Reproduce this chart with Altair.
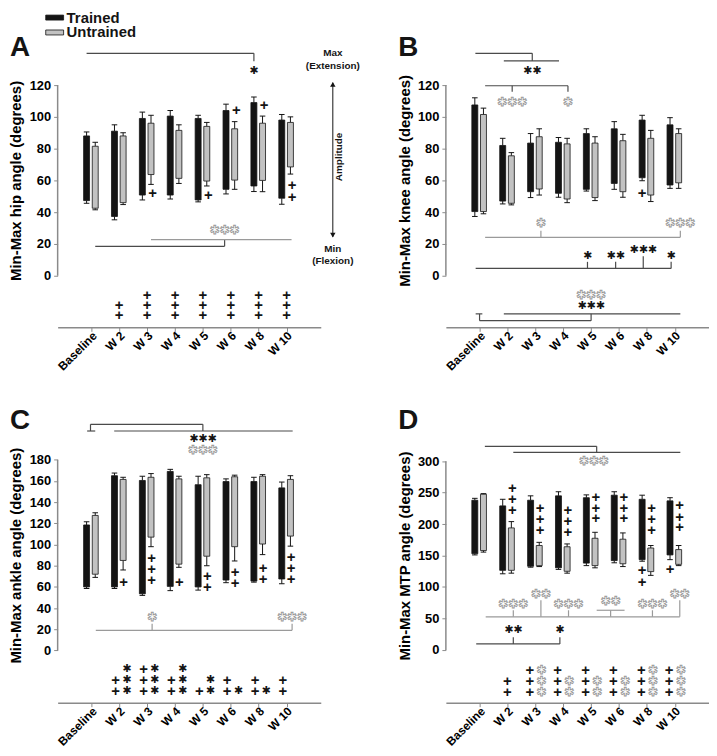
import altair as alt
import pandas as pd

cats = ["Baseline", "W 2", "W 3", "W 4", "W 5", "W 6", "W 8", "W 10"]
groups = ["Trained", "Untrained"]

# ---------------- A: hip ----------------
hip_tr_max = [88, 91, 99, 100.5, 99, 104, 109, 98]
hip_tr_up = [90.5, 95, 103, 104, 101, 108, 112.5, 101.5]
hip_tr_min = [47.3, 37.3, 50.8, 50.8, 47.7, 54.4, 56.5, 48.8]
hip_tr_dn = [45.6, 35.2, 47.7, 48.3, 46.5, 51.5, 53, 45]
hip_un_max = [81.5, 88, 96, 91.5, 94, 92.5, 96, 96.5]
hip_un_up = [84, 90, 101, 95, 96.5, 97, 100.5, 100]
hip_un_min = [42.5, 46, 63.7, 61.3, 59.6, 60.2, 60, 68.5]
hip_un_dn = [41.5, 44.8, 57.5, 58.1, 56.5, 54.4, 52.9, 64]
hip_plus_counts = [0, 2, 3, 3, 3, 3, 3, 3]

# ---------------- B: knee ----------------
knee_tr_max = [107.5, 82, 83.5, 84, 89.5, 92.5, 98, 95]
knee_tr_up = [112, 86.5, 89.5, 87, 92.5, 97, 101, 99.5]
knee_tr_min = [40.4, 47, 52.9, 51.9, 54.4, 58.1, 61.7, 57.1]
knee_tr_dn = [37.3, 45.2, 49.2, 49.4, 53.3, 54.4, 59.8, 55]
knee_un_max = [101.5, 75.5, 87.5, 83, 83.5, 85, 86.5, 89.5]
knee_un_up = [105.5, 77.5, 92.5, 86.5, 87.5, 89, 91.5, 92.5]
knee_un_min = [40.4, 45.6, 54.6, 48.3, 49.2, 52.9, 50.8, 58.5]
knee_un_dn = [39, 44.6, 50.8, 46, 47.3, 49.4, 46.7, 55]

# ---------------- C: ankle ----------------
ankle_tr_max = [118.5, 165, 160.5, 169, 156.5, 159.5, 159.5, 153.5]
ankle_tr_up = [121.5, 167.5, 164.5, 171, 164.5, 162, 163.5, 159]
ankle_tr_min = [60, 60, 53.5, 60.5, 60, 66.5, 65.5, 67.5]
ankle_tr_dn = [58.5, 58.5, 52, 56.5, 57, 64, 64.5, 63]
ankle_un_max = [127.5, 161.5, 163.5, 162, 163, 164, 164.5, 161.5]
ankle_un_up = [130, 163.5, 167, 164.5, 166, 165.5, 166, 165]
ankle_un_min = [72, 85, 107, 81.5, 89, 98, 100.5, 108]
ankle_un_dn = [69, 76, 98, 78.5, 80, 84.5, 90.5, 98.5]
ankle_plus_counts = [0, 2, 3, 2, 1, 2, 2, 2]
ankle_star_counts = [0, 3, 3, 3, 2, 1, 1, 0]

# ---------------- D: MTP ----------------
mtp_tr_max = [238, 229, 238, 245, 242, 246, 239.5, 237]
mtp_tr_up = [241, 239.5, 245, 251.5, 246.5, 251.5, 246, 242]
mtp_tr_min = [153, 126.5, 133, 130.5, 138, 142, 143.5, 151]
mtp_tr_dn = [151, 121, 131.5, 128, 134, 138.5, 141, 143.5]
mtp_un_max = [247.5, 194, 166, 164, 177.5, 176, 162, 159.5]
mtp_un_up = [248.5, 204, 171, 168.5, 187, 186, 166, 166]
mtp_un_min = [158, 126.5, 134, 125, 134, 137, 124.5, 136]
mtp_un_dn = [155.5, 122, 132.5, 122, 130.5, 132.5, 118.5, 134]
mtp_plus_counts = [0, 2, 3, 3, 3, 3, 3, 3]
mtp_star_counts = [0, 0, 3, 2, 2, 2, 3, 3]

# ---------------- styles ----------------
FONT = "Liberation Sans"
SYM = "DejaVu Sans"
STAR = "\u2731"
BLACK = "#141414"
GRAY_FILL = "#c2c2c2"
AXIS_C = "#8a8a8a"
LINE_DARK = "#4a4a4a"
LINE_GRAY = "#9a9a9a"
STAR_GRAY = "#999999"
TR_OFF, UN_OFF = -0.17, 0.14
label_expr = "[" + ",".join("'%s'" % c for c in cats) + "][datum.value]"


def bar_frame(tr_max, tr_up, tr_min, tr_dn, un_max, un_up, un_min, un_dn):
    rows = []
    for i, c in enumerate(cats):
        rows.append(dict(idx=i, cat=c, group="Trained", hi=tr_max[i], up=tr_up[i], lo=tr_min[i], dn=tr_dn[i]))
        rows.append(dict(idx=i, cat=c, group="Untrained", hi=un_max[i], up=un_up[i], lo=un_min[i], dn=un_dn[i]))
    return pd.DataFrame(rows)


def table(counts, rows, dx_alone, dx_pair, star_counts=None, star_dx=0.0):
    plus, stars = [], []
    for i, n in enumerate(counts):
        has_star = star_counts is not None and star_counts[i] > 0
        dx = dx_pair if has_star else dx_alone
        for k in range(n):
            plus.append((i + dx, rows[len(rows) - 1 - k]))
    if star_counts is not None:
        for i, n in enumerate(star_counts):
            for k in range(n):
                stars.append((i + star_dx, rows[len(rows) - 1 - k], 1))
    return plus, stars


def panel(cfg):
    W, H = cfg["width"], cfg["height"]
    xs = alt.Scale(domain=cfg["xdom"], nice=False, zero=False)
    ys = alt.Scale(domain=cfg["ydom"], nice=False, zero=False)
    ymax = cfg["yticks"][-1]
    y0, y1 = cfg["ydom"]
    title_y = (y1 - ymax / 2) * H / (y1 - y0)
    xaxis = alt.Axis(values=list(range(len(cats))), labelExpr=label_expr, labelAngle=315,
                     labelAlign="right", labelBaseline="middle", labelPadding=2, labelOverlap=False,
                     labelOffset=3,
                     labelFontSize=12, labelFontWeight="bold", labelColor="black", labelFont=FONT,
                     tickSize=4, tickColor=AXIS_C, domainColor=AXIS_C, domainWidth=1.5,
                     grid=False, title=None)
    yaxis = alt.Axis(values=cfg["yticks"], domain=False, grid=False, tickSize=4, tickColor=AXIS_C,
                     labelFontSize=13, labelFontWeight="bold", labelColor="black", labelFont=FONT,
                     labelPadding=3, title=cfg["title"], titleFontSize=15, titleFontWeight="bold",
                     titleFont=FONT, titleColor="black", titleX=-34, titleY=title_y)

    def X(f):
        return alt.X(f, type="quantitative", scale=xs, axis=xaxis)

    def Y(f):
        return alt.Y(f, type="quantitative", scale=ys, axis=yaxis)

    layers = []
    layers.append(alt.Chart(pd.DataFrame({"lo": [0], "hi": [ymax]})).mark_rule(
        color=AXIS_C, strokeWidth=1.5).encode(x=alt.value(0), y=Y("lo"), y2="hi:Q"))

    bx = alt.Chart(cfg["bars"]).transform_calculate(
        xp="datum.idx + (datum.group === 'Trained' ? %s : %s)" % (TR_OFF, UN_OFF))
    caps = bx.transform_calculate(c1="datum.xp - 0.1", c2="datum.xp + 0.1")
    layers.append(bx.mark_rule(color=BLACK, strokeWidth=1).encode(x=X("xp"), y=Y("hi"), y2="up:Q"))
    layers.append(bx.mark_rule(color=BLACK, strokeWidth=1).encode(x=X("xp"), y=Y("dn"), y2="lo:Q"))
    layers.append(caps.mark_rule(color=BLACK, strokeWidth=1).encode(x=X("c1"), x2="c2:Q", y=Y("up")))
    layers.append(caps.mark_rule(color=BLACK, strokeWidth=1).encode(x=X("c1"), x2="c2:Q", y=Y("dn")))
    layers.append(bx.mark_bar(size=6, stroke=BLACK, strokeWidth=0.8).encode(
        x=X("xp"), y=Y("lo"), y2="hi:Q",
        fill=alt.Fill("group:N", scale=alt.Scale(domain=groups, range=[BLACK, GRAY_FILL]), legend=None)))

    for key, color in [("dark_lines", LINE_DARK), ("gray_lines", LINE_GRAY)]:
        segs = cfg.get(key, [])
        if segs:
            df = pd.DataFrame(segs, columns=["x1", "x2", "y1", "y2"])
            layers.append(alt.Chart(df).mark_rule(color=color, strokeWidth=1.2).encode(
                x=X("x1"), x2="x2:Q", y=Y("y1"), y2="y2:Q"))

    def star_df(items):
        return pd.DataFrame({"x": [s[0] for s in items], "y": [s[1] for s in items],
                             "t": [STAR * s[2] for s in items]})

    if cfg.get("dark_stars"):
        layers.append(alt.Chart(star_df(cfg["dark_stars"])).mark_text(
            font=SYM, fontSize=11, color=BLACK, baseline="middle").encode(x=X("x"), y=Y("y"), text="t:N"))
    if cfg.get("gray_stars"):
        layers.append(alt.Chart(star_df(cfg["gray_stars"])).mark_text(
            font=SYM, fontSize=12, fill="white", stroke=STAR_GRAY, strokeWidth=0.9,
            baseline="middle").encode(x=X("x"), y=Y("y"), text="t:N"))
    if cfg.get("plus"):
        pdf = pd.DataFrame(cfg["plus"], columns=["x", "y"])
        layers.append(alt.Chart(pdf).mark_text(
            text="+", font=FONT, fontSize=15, fontWeight="bold", color=BLACK, baseline="middle").encode(
            x=X("x"), y=Y("y")))

    layers.append(alt.Chart(pd.DataFrame({"t": [cfg["letter"]]})).mark_text(
        align="left", baseline="alphabetic", fontSize=28, fontWeight="bold", font=FONT, color=BLACK).encode(
        x=alt.value(-48), y=alt.value(cfg["letter_y"]), text="t:N"))

    if cfg.get("maxmin"):
        mm = pd.DataFrame({"t": ["Max", "(Extension)", "Min", "(Flexion)"],
                           "y": [140, 131.9, 16.9, 9.4], "x": [8.66] * 4})
        layers.append(alt.Chart(mm).mark_text(fontSize=10, fontWeight="bold", font=FONT,
                                              color=BLACK, baseline="middle").encode(
            x=X("x"), y=Y("y"), text="t:N"))
        arr = pd.DataFrame({"x": [8.66], "lo": [24.5], "hi": [121.5]})
        layers.append(alt.Chart(arr).mark_rule(color=BLACK, strokeWidth=1).encode(
            x=X("x"), y=Y("lo"), y2="hi:Q"))
        heads = pd.DataFrame({"x": [8.66, 8.66], "y": [120.5, 25.5], "s": ["triangle-up", "triangle-down"]})
        layers.append(alt.Chart(heads).mark_point(filled=True, size=30, color=BLACK, opacity=1).encode(
            x=X("x"), y=Y("y"), shape=alt.Shape("s:N", scale=None)))
        amp = pd.DataFrame({"t": ["Amplitude"], "x": [8.89], "y": [74.8]})
        layers.append(alt.Chart(amp).mark_text(angle=270, fontSize=10, fontWeight="bold", font=FONT,
                                               color=BLACK, baseline="middle").encode(
            x=X("x"), y=Y("y"), text="t:N"))

    if cfg.get("legend"):
        leg = pd.DataFrame({"g": groups})
        for i, (g, col) in enumerate(zip(groups, [BLACK, GRAY_FILL])):
            yy = -34 + 15 * i
            layers.append(alt.Chart(leg).transform_filter(alt.datum.g == g).mark_rect(
                fill=col, stroke=BLACK, strokeWidth=0.8).encode(
                x=alt.value(-12), x2=alt.value(6), y=alt.value(yy - 2.5), y2=alt.value(yy + 2.5)))
            layers.append(alt.Chart(leg).transform_filter(alt.datum.g == g).mark_text(
                align="left", baseline="middle", fontSize=15, fontWeight="bold", font=FONT,
                color=BLACK).encode(x=alt.value(9), y=alt.value(yy), text="g:N"))

    return alt.layer(*layers).properties(width=W, height=H)


H = 278
XDOM_L = [-1.03, 8.05]

hip_plus, _ = table(hip_plus_counts, [-12, -18.75, -25], 0.0, 0.0)
ankle_plus, ankle_tstars = table(ankle_plus_counts, [-17.2, -27.8, -38.4], -0.13, -0.13,
                                 ankle_star_counts, 0.27)
mtp_plus, mtp_tstars = table(mtp_plus_counts, [-32, -49.5, -66.8], 0.0, -0.2, mtp_star_counts, 0.22)

cfgA = dict(
    letter="A", letter_y=5, title="Min-Max hip angle (degrees)", width=265, height=H,
    xdom=XDOM_L, ydom=[-32.5, 141.25], yticks=[0, 20, 40, 60, 80, 100, 120],
    bars=bar_frame(hip_tr_max, hip_tr_up, hip_tr_min, hip_tr_dn, hip_un_max, hip_un_up, hip_un_min, hip_un_dn),
    dark_lines=[(-0.17, 5.83, 140, 140), (5.83, 5.83, 140, 135), (0.14, 4.78, 18.5, 18.5),
                (4.78, 4.78, 18.5, 22.7)],
    gray_lines=[(2.14, 7.18, 22.7, 22.7)],
    dark_stars=[(5.83, 129, 1)],
    gray_stars=[(4.78, 29, 3)],
    plus=[(2.2, 52), (4.2, 50.5), (5.2, 104), (6.2, 107.5), (7.2, 57), (7.2, 49.5)] + hip_plus,
    maxmin=True, legend=True,
)

cfgB = dict(
    letter="B", letter_y=5, title="Min-Max knee angle (degrees)", width=265, height=H,
    xdom=XDOM_L, ydom=[-32.5, 141.25], yticks=[0, 20, 40, 60, 80, 100, 120],
    bars=bar_frame(knee_tr_max, knee_tr_up, knee_tr_min, knee_tr_dn, knee_un_max, knee_un_up, knee_un_min, knee_un_dn),
    dark_lines=[(-0.15, 1.89, 140, 140), (1.89, 1.89, 140, 135.2), (0.87, 2.85, 135.2, 135.2),
                (0.2, 3.17, 119.6, 119.6), (1.17, 1.17, 119.6, 115.8), (3.17, 3.17, 119.6, 115.8),
                (-0.14, 6.87, 4.6, 4.6), (3.87, 3.87, 4.6, 8.75), (4.88, 4.88, 4.6, 8.75),
                (5.87, 5.87, 4.6, 12.3), (6.87, 6.87, 4.6, 8.75),
                (0.87, 7.2, -24, -24), (-0.14, 0.1, -24, -24), (0, 0, -24, -28.3),
                (0, 4.0, -28.3, -28.3), (4.0, 4.0, -28.3, -24)],
    gray_lines=[(0.2, 7.2, 24.2, 24.2), (2.2, 2.2, 24.2, 28.3), (7.2, 7.2, 24.2, 28.3)],
    dark_stars=[(1.89, 129, 2), (3.87, 12.6, 1), (4.88, 12.6, 2), (5.87, 16.5, 3), (6.87, 12.6, 1),
                (4.0, -19, 3)],
    gray_stars=[(1.17, 109.5, 3), (3.17, 109.5, 1), (2.2, 33, 1), (7.2, 33, 3), (4.0, -12, 3)],
    plus=[(5.83, 52.3)],
)

cfgC = dict(
    letter="C", letter_y=2, title="Min-Max ankle angle (degrees)", width=265, height=H,
    xdom=XDOM_L, ydom=[-49.3, 211.3], yticks=[0, 20, 40, 60, 80, 100, 120, 140, 160, 180],
    bars=bar_frame(ankle_tr_max, ankle_tr_up, ankle_tr_min, ankle_tr_dn, ankle_un_max, ankle_un_up, ankle_un_min, ankle_un_dn),
    dark_lines=[(-0.03, 4.0, 213.5, 213.5), (-0.03, -0.03, 213.5, 207.2), (4.0, 4.0, 213.5, 207.2),
                (0.82, 7.22, 207.2, 207.2), (-0.15, 0.14, 207.2, 207.2)],
    gray_lines=[(0.16, 7.2, 19, 19), (2.18, 2.18, 19, 25.3), (7.2, 7.2, 19, 25.3)],
    dark_stars=[(4.0, 199.4, 3)] + ankle_tstars,
    gray_stars=[(4.0, 189.4, 3), (2.18, 31.6, 1), (7.2, 31.6, 3)],
    plus=[(1.16, 65), (2.16, 87), (2.16, 76.6), (2.16, 66.6), (3.16, 65), (4.16, 70.3), (4.16, 59.7),
          (5.16, 74.4), (5.16, 64), (6.16, 78), (6.16, 67.5), (7.16, 87.8), (7.16, 77.5),
          (7.16, 67.2)] + ankle_plus,
)

cfgD = dict(
    letter="D", letter_y=2, title="Min-Max MTP angle (degrees)", width=265, height=H,
    xdom=XDOM_L, ydom=[-84, 355], yticks=[0, 50, 100, 150, 200, 250, 300],
    bars=bar_frame(mtp_tr_max, mtp_tr_up, mtp_tr_min, mtp_tr_dn, mtp_un_max, mtp_un_up, mtp_un_min, mtp_un_dn),
    dark_lines=[(0.19, 4.2, 323.7, 323.7), (4.2, 4.2, 323.7, 314), (1.21, 7.2, 314, 314),
                (-0.12, 2.88, 9.5, 9.5), (1.21, 1.21, 9.5, 20), (2.88, 2.88, 9.5, 20)],
    gray_lines=[(0.22, 7.18, 52.6, 52.6), (1.21, 1.21, 52.6, 63), (2.2, 2.2, 52.6, 79),
                (3.19, 3.19, 52.6, 63), (4.7, 4.7, 52.6, 63), (4.2, 5.2, 63, 63),
                (6.2, 6.2, 52.6, 63), (7.18, 7.18, 52.6, 79)],
    dark_stars=[(1.21, 31.6, 2), (2.88, 31.6, 1)],
    gray_stars=[(4.1, 300, 3), (1.21, 72.6, 3), (2.2, 89.5, 2), (3.19, 72.6, 3), (4.7, 77.4, 2),
                (6.2, 72.6, 3), (7.18, 89.5, 2)] + mtp_tstars,
    plus=[(1.18, 257), (1.18, 239.5), (1.18, 222), (2.17, 226.3), (2.17, 208), (2.17, 190.5),
          (3.17, 222.6), (3.17, 205.3), (3.17, 188), (4.17, 243.6), (4.17, 226.3), (4.17, 208.9),
          (5.17, 243.6), (5.17, 226.3), (5.17, 208.9), (6.17, 226.3), (6.17, 208), (6.17, 190.5),
          (5.83, 126.3), (5.83, 108), (7.17, 230), (7.17, 212), (7.17, 194.7), (6.83, 129)] + mtp_plus,
)

chart = alt.concat(panel(cfgA), panel(cfgB), panel(cfgC), panel(cfgD), columns=2,
                   spacing={"row": 100, "column": 126}, bounds="flush").properties(padding=0).configure(
    font=FONT).configure_view(stroke=None)

chart.save("out.html", embed_options={"renderer": "svg", "actions": False})
